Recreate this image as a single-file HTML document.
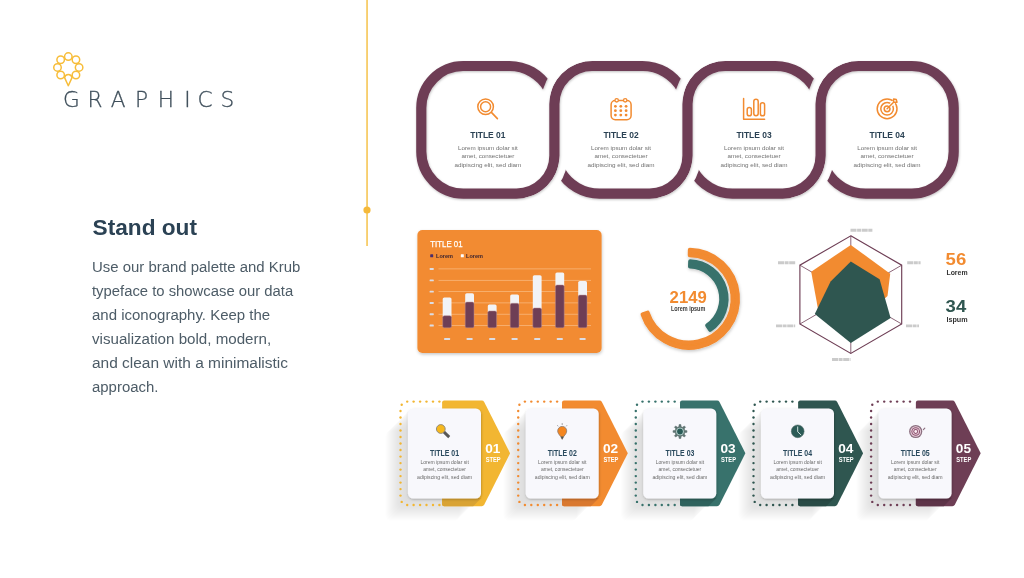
<!DOCTYPE html>
<html lang="en">
<head>
<meta charset="utf-8">
<title>Graphics</title>
<style>
html,body{margin:0;padding:0;background:#fff;}
body{width:1024px;height:578px;overflow:hidden;position:relative;font-family:"Liberation Sans",sans-serif;}
svg{position:absolute;left:0;top:0;}
svg text{font-family:"Liberation Sans",sans-serif;}
</style>
</head>
<body>
<svg width="1024" height="578" viewBox="0 0 1024 578">
<defs>
<filter id="sh" x="-5%" y="-5%" width="110%" height="115%"><feDropShadow dx="0.5" dy="1" stdDeviation="1.2" flood-color="#000" flood-opacity="0.25"/></filter>
<filter id="sh2" x="-10%" y="-10%" width="120%" height="125%"><feDropShadow dx="0.5" dy="1.5" stdDeviation="1.5" flood-color="#000" flood-opacity="0.22"/></filter>
<g id="lsg" fill="#c4c7d1" fill-opacity="0.04"><rect x="406.9" y="409.5" width="73.4" height="89.9" rx="5.2"/><rect x="405.9" y="410.5" width="73.4" height="89.9" rx="5.2"/><rect x="404.9" y="411.5" width="73.4" height="89.9" rx="5.2"/><rect x="403.9" y="412.5" width="73.4" height="89.9" rx="5.2"/><rect x="402.9" y="413.5" width="73.4" height="89.9" rx="5.2"/><rect x="401.9" y="414.5" width="73.4" height="89.9" rx="5.2"/><rect x="400.9" y="415.5" width="73.4" height="89.9" rx="5.2"/><rect x="399.9" y="416.5" width="73.4" height="89.9" rx="5.2"/><rect x="398.9" y="417.5" width="73.4" height="89.9" rx="5.2"/><rect x="397.9" y="418.5" width="73.4" height="89.9" rx="5.2"/><rect x="396.9" y="419.5" width="73.4" height="89.9" rx="5.2"/><rect x="395.9" y="420.5" width="73.4" height="89.9" rx="5.2"/><rect x="394.9" y="421.5" width="73.4" height="89.9" rx="5.2"/><rect x="393.9" y="422.5" width="73.4" height="89.9" rx="5.2"/><rect x="392.9" y="423.5" width="73.4" height="89.9" rx="5.2"/><rect x="391.9" y="424.5" width="73.4" height="89.9" rx="5.2"/><rect x="390.9" y="425.5" width="73.4" height="89.9" rx="5.2"/><rect x="389.9" y="426.5" width="73.4" height="89.9" rx="5.2"/><rect x="388.9" y="427.5" width="73.4" height="89.9" rx="5.2"/><rect x="387.9" y="428.5" width="73.4" height="89.9" rx="5.2"/><rect x="386.9" y="429.5" width="73.4" height="89.9" rx="5.2"/><rect x="385.9" y="430.5" width="73.4" height="89.9" rx="5.2"/></g>
</defs>

<text x="92.6" y="235.3" font-size="21.6" font-weight="bold" fill="#2b4254" textLength="104.4" lengthAdjust="spacingAndGlyphs">Stand out</text>
<g font-size="14.9" fill="#4d5c67">
<text x="92" y="271.5" textLength="208.3" lengthAdjust="spacingAndGlyphs">Use our brand palette and Krub</text>
<text x="92" y="295.5" textLength="201.2" lengthAdjust="spacingAndGlyphs">typeface to showcase our data</text>
<text x="92" y="319.5" textLength="178.2" lengthAdjust="spacingAndGlyphs">and iconography. Keep the</text>
<text x="92" y="343.5" textLength="179.2" lengthAdjust="spacingAndGlyphs">visualization bold, modern,</text>
<text x="92" y="367.5" textLength="196.0" lengthAdjust="spacingAndGlyphs">and clean with a minimalistic</text>
<text x="92" y="391.5" textLength="66.4" lengthAdjust="spacingAndGlyphs">approach.</text>
</g>
<rect x="366.3" y="0" width="1.5" height="246" fill="#f6c24a"/>
<circle cx="367" cy="210" r="3.6" fill="#f5b93a"/>
<g fill="none" stroke="#f7bd3a" stroke-width="1.5">
<circle cx="68.30" cy="56.60" r="3.75"/>
<circle cx="75.94" cy="59.76" r="3.75"/>
<circle cx="79.10" cy="67.40" r="3.75"/>
<circle cx="75.94" cy="75.04" r="3.75"/>
<path d="M64.60 77.60 A3.75 3.75 0 0 1 72.00 77.60 L68.30 85.7 Z" stroke-linejoin="round"/>
<circle cx="60.66" cy="75.04" r="3.75"/>
<circle cx="57.50" cy="67.40" r="3.75"/>
<circle cx="60.66" cy="59.76" r="3.75"/>
</g>
<text x="63.0 87.6 110.8 135.0 157.8 184.2 197.6 220.6" y="107.4" font-size="21.6" fill="#3f4f5b" stroke="#3f4f5b" stroke-width="0.3" style="font-family:'DejaVu Sans Light','DejaVu Sans','Liberation Sans',sans-serif;font-weight:200">GRAPHICS</text>
<mask id="cm" maskUnits="userSpaceOnUse" x="400" y="40" width="580" height="180"><rect x="400" y="40" width="580" height="180" fill="#fff"/><g fill="none" stroke="#000" stroke-width="8.3"><path d="M584.20 57.47 A47.25 47.25 0 0 0 545.61 97.42"/><path d="M524.60 202.13 A47.25 47.25 0 0 0 563.19 162.18"/><path d="M717.30 57.47 A47.25 47.25 0 0 0 678.71 97.42"/><path d="M657.70 202.13 A47.25 47.25 0 0 0 696.29 162.18"/><path d="M850.40 57.47 A47.25 47.25 0 0 0 811.81 97.42"/><path d="M790.80 202.13 A47.25 47.25 0 0 0 829.39 162.18"/></g></mask>
<g filter="url(#sh)"><path d="M548.37 88.50 A45.0 45.0 0 0 0 509.40 66.00 L463.30 66.00 A42.0 42.0 0 0 0 421.30 108.00 L421.30 151.60 A42.0 42.0 0 0 0 463.30 193.60 L516.40 193.60 A38.0 38.0 0 0 0 554.40 155.60 L554.40 104.00 A38.0 38.0 0 0 1 592.40 66.00 L642.50 66.00 A45.0 45.0 0 0 1 681.47 88.50 M560.43 171.10 A45.0 45.0 0 0 0 599.40 193.60 L649.50 193.60 A38.0 38.0 0 0 0 687.50 155.60 L687.50 104.00 A38.0 38.0 0 0 1 725.50 66.00 L775.60 66.00 A45.0 45.0 0 0 1 814.57 88.50 M693.53 171.10 A45.0 45.0 0 0 0 732.50 193.60 L782.60 193.60 A38.0 38.0 0 0 0 820.60 155.60 L820.60 104.00 A38.0 38.0 0 0 1 858.60 66.00 L911.70 66.00 A42.0 42.0 0 0 1 953.70 108.00 L953.70 151.60 A42.0 42.0 0 0 1 911.70 193.60 L865.60 193.60 A45.0 45.0 0 0 1 826.63 171.10 " fill="none" stroke="#6e3e55" stroke-width="10.2" mask="url(#cm)"/></g>
<text x="487.9" y="138.3" text-anchor="middle" font-size="9.3" font-weight="bold" fill="#2b4254" textLength="35.2" lengthAdjust="spacingAndGlyphs">TITLE 01</text>
<text x="487.9" y="149.7" text-anchor="middle" font-size="6.2" fill="#707070" textLength="59.8" lengthAdjust="spacingAndGlyphs">Lorem ipsum dolar sit</text>
<text x="487.9" y="158.3" text-anchor="middle" font-size="6.2" fill="#707070" textLength="53.0" lengthAdjust="spacingAndGlyphs">amet, consectetuer</text>
<text x="487.9" y="166.9" text-anchor="middle" font-size="6.2" fill="#707070" textLength="67.0" lengthAdjust="spacingAndGlyphs">adipiscing elit, sed diam</text>
<text x="621.0" y="138.3" text-anchor="middle" font-size="9.3" font-weight="bold" fill="#2b4254" textLength="35.2" lengthAdjust="spacingAndGlyphs">TITLE 02</text>
<text x="621.0" y="149.7" text-anchor="middle" font-size="6.2" fill="#707070" textLength="59.8" lengthAdjust="spacingAndGlyphs">Lorem ipsum dolar sit</text>
<text x="621.0" y="158.3" text-anchor="middle" font-size="6.2" fill="#707070" textLength="53.0" lengthAdjust="spacingAndGlyphs">amet, consectetuer</text>
<text x="621.0" y="166.9" text-anchor="middle" font-size="6.2" fill="#707070" textLength="67.0" lengthAdjust="spacingAndGlyphs">adipiscing elit, sed diam</text>
<text x="754.0" y="138.3" text-anchor="middle" font-size="9.3" font-weight="bold" fill="#2b4254" textLength="35.2" lengthAdjust="spacingAndGlyphs">TITLE 03</text>
<text x="754.0" y="149.7" text-anchor="middle" font-size="6.2" fill="#707070" textLength="59.8" lengthAdjust="spacingAndGlyphs">Lorem ipsum dolar sit</text>
<text x="754.0" y="158.3" text-anchor="middle" font-size="6.2" fill="#707070" textLength="53.0" lengthAdjust="spacingAndGlyphs">amet, consectetuer</text>
<text x="754.0" y="166.9" text-anchor="middle" font-size="6.2" fill="#707070" textLength="67.0" lengthAdjust="spacingAndGlyphs">adipiscing elit, sed diam</text>
<text x="887.1" y="138.3" text-anchor="middle" font-size="9.3" font-weight="bold" fill="#2b4254" textLength="35.2" lengthAdjust="spacingAndGlyphs">TITLE 04</text>
<text x="887.1" y="149.7" text-anchor="middle" font-size="6.2" fill="#707070" textLength="59.8" lengthAdjust="spacingAndGlyphs">Lorem ipsum dolar sit</text>
<text x="887.1" y="158.3" text-anchor="middle" font-size="6.2" fill="#707070" textLength="53.0" lengthAdjust="spacingAndGlyphs">amet, consectetuer</text>
<text x="887.1" y="166.9" text-anchor="middle" font-size="6.2" fill="#707070" textLength="67.0" lengthAdjust="spacingAndGlyphs">adipiscing elit, sed diam</text>
<g fill="none" stroke="#f28b30" stroke-width="1.5" stroke-linecap="round" stroke-linejoin="round">
<circle cx="485.6" cy="106.8" r="7.8"/><circle cx="485.6" cy="106.8" r="5"/><path d="M491.4 112.4 L497.4 118.6" stroke-width="1.6"/>
<rect x="611.1" y="100.5" width="20" height="19.3" rx="4.2"/>
<circle cx="616.7" cy="100.3" r="1.7" fill="#fff" stroke-width="1.3"/><circle cx="625.2" cy="100.3" r="1.7" fill="#fff" stroke-width="1.3"/>
<circle cx="615.4" cy="106.3" r="1.4" fill="#f28b30" stroke="none"/>
<circle cx="615.4" cy="110.7" r="1.4" fill="#f28b30" stroke="none"/>
<circle cx="615.4" cy="115.1" r="1.4" fill="#f28b30" stroke="none"/>
<circle cx="620.8" cy="106.3" r="1.4" fill="#f28b30" stroke="none"/>
<circle cx="620.8" cy="110.7" r="1.4" fill="#f28b30" stroke="none"/>
<circle cx="620.8" cy="115.1" r="1.4" fill="#f28b30" stroke="none"/>
<circle cx="626.1" cy="106.3" r="1.4" fill="#f28b30" stroke="none"/>
<circle cx="626.1" cy="110.7" r="1.4" fill="#f28b30" stroke="none"/>
<circle cx="626.1" cy="115.1" r="1.4" fill="#f28b30" stroke="none"/>
<path d="M743.6 98.6 V119.2 H764.6"/>
<rect x="747.2" y="107.6" width="4.2" height="8.2" rx="2.1"/><rect x="753.8" y="99.2" width="4.4" height="16.6" rx="2.2"/><rect x="760.4" y="102.8" width="4.2" height="13" rx="2.1"/>
<circle cx="887.1" cy="108.8" r="9.9"/><circle cx="887.1" cy="108.8" r="6.3"/><circle cx="887.1" cy="108.8" r="2.9"/>
<path d="M889.5 106.4 L895.6 100.3" stroke="#fff" stroke-width="3.6" stroke-linecap="butt"/>
<path d="M887.1 108.8 L893.6 102.3 M893.6 102.3 V98.9 L896.3 99.6 L897 102.3 Z" />
</g>
<rect x="417.4" y="230" width="184.2" height="123" rx="5" fill="#f28b30" filter="url(#sh2)"/>
<text x="430.2" y="247.3" font-size="8.6" fill="#fff" stroke="#fff" stroke-width="0.25" textLength="32.4" lengthAdjust="spacingAndGlyphs">TITLE 01</text>
<rect x="430.2" y="254.3" width="3" height="3" rx="0.6" fill="#4a2d6b"/><rect x="460.8" y="254.3" width="3" height="3" rx="0.5" fill="#fff"/>
<text x="436" y="257.8" font-size="5.6" font-weight="bold" fill="#3c2430" textLength="17" lengthAdjust="spacingAndGlyphs">Lorem</text>
<text x="466" y="257.8" font-size="5.6" font-weight="bold" fill="#3c2430" textLength="17" lengthAdjust="spacingAndGlyphs">Lorem</text>
<rect x="438.5" y="268.55" width="152.5" height="0.7" fill="#f9bd85"/>
<rect x="429.6" y="268.00" width="4.2" height="1.9" rx="0.6" fill="#dcdde4"/>
<rect x="438.5" y="279.95" width="152.5" height="0.7" fill="#f9bd85"/>
<rect x="429.6" y="279.40" width="4.2" height="1.9" rx="0.6" fill="#dcdde4"/>
<rect x="438.5" y="291.25" width="152.5" height="0.7" fill="#f9bd85"/>
<rect x="429.6" y="290.70" width="4.2" height="1.9" rx="0.6" fill="#dcdde4"/>
<rect x="438.5" y="302.55" width="152.5" height="0.7" fill="#f9bd85"/>
<rect x="429.6" y="302.00" width="4.2" height="1.9" rx="0.6" fill="#dcdde4"/>
<rect x="438.5" y="313.85" width="152.5" height="0.7" fill="#f9bd85"/>
<rect x="429.6" y="313.30" width="4.2" height="1.9" rx="0.6" fill="#dcdde4"/>
<rect x="438.5" y="325.15" width="152.5" height="0.7" fill="#f9bd85"/>
<rect x="429.6" y="324.60" width="4.2" height="1.9" rx="0.6" fill="#dcdde4"/>
<rect x="442.7" y="297.4" width="8.8" height="20.3" rx="1.6" fill="#f2f3f6"/>
<rect x="442.7" y="315.7" width="8.8" height="12.1" rx="1.6" fill="#6e3e55" stroke="#b98a8f" stroke-width="0.5"/>
<rect x="444.1" y="338" width="6" height="2" rx="0.6" fill="#dcdde4"/>
<rect x="465.2" y="293.2" width="8.8" height="10.9" rx="1.6" fill="#f2f3f6"/>
<rect x="465.2" y="302.1" width="8.8" height="25.7" rx="1.6" fill="#6e3e55" stroke="#b98a8f" stroke-width="0.5"/>
<rect x="466.6" y="338" width="6" height="2" rx="0.6" fill="#dcdde4"/>
<rect x="487.8" y="304.4" width="8.8" height="8.6" rx="1.6" fill="#f2f3f6"/>
<rect x="487.8" y="311.0" width="8.8" height="16.8" rx="1.6" fill="#6e3e55" stroke="#b98a8f" stroke-width="0.5"/>
<rect x="489.2" y="338" width="6" height="2" rx="0.6" fill="#dcdde4"/>
<rect x="510.2" y="294.4" width="8.8" height="10.9" rx="1.6" fill="#f2f3f6"/>
<rect x="510.2" y="303.3" width="8.8" height="24.5" rx="1.6" fill="#6e3e55" stroke="#b98a8f" stroke-width="0.5"/>
<rect x="511.6" y="338" width="6" height="2" rx="0.6" fill="#dcdde4"/>
<rect x="532.8" y="275.2" width="8.8" height="34.8" rx="1.6" fill="#f2f3f6"/>
<rect x="532.8" y="308.0" width="8.8" height="19.8" rx="1.6" fill="#6e3e55" stroke="#b98a8f" stroke-width="0.5"/>
<rect x="534.2" y="338" width="6" height="2" rx="0.6" fill="#dcdde4"/>
<rect x="555.4" y="272.4" width="8.8" height="14.6" rx="1.6" fill="#f2f3f6"/>
<rect x="555.4" y="285.0" width="8.8" height="42.8" rx="1.6" fill="#6e3e55" stroke="#b98a8f" stroke-width="0.5"/>
<rect x="556.8" y="338" width="6" height="2" rx="0.6" fill="#dcdde4"/>
<rect x="578.2" y="281.0" width="8.8" height="16.1" rx="1.6" fill="#f2f3f6"/>
<rect x="578.2" y="295.1" width="8.8" height="32.7" rx="1.6" fill="#6e3e55" stroke="#b98a8f" stroke-width="0.5"/>
<rect x="579.6" y="338" width="6" height="2" rx="0.6" fill="#dcdde4"/>
<g filter="url(#sh2)" stroke-linejoin="round" stroke-width="4">
<path d="M689.83 249.81 A49.00 49.00 0 1 1 642.53 314.33 L647.65 312.62 A43.60 43.60 0 1 0 689.74 255.21 Z" fill="#f28b30" stroke="#f28b30"/>
<path d="M690.17 261.22 A37.60 37.60 0 0 1 710.18 329.87 L707.14 325.41 A32.20 32.20 0 0 0 690.00 266.62 Z" fill="#38726c" stroke="#38726c"/>
</g>
<text x="688.2" y="303.4" text-anchor="middle" font-size="16.6" font-weight="bold" fill="#f28b30" textLength="37.2" lengthAdjust="spacingAndGlyphs">2149</text>
<text x="688.1" y="311.2" text-anchor="middle" font-size="6.6" font-weight="bold" fill="#3a3a3a" textLength="34.4" lengthAdjust="spacingAndGlyphs">Lorem ipsum</text>
<g fill="none" stroke="#6e3e55" stroke-width="0.8">
<path d="M850.8 294.6 L850.8 235.8"/>
<path d="M850.8 294.6 L901.7 265.2"/>
<path d="M850.8 294.6 L901.7 324.0"/>
<path d="M850.8 294.6 L850.8 353.4"/>
<path d="M850.8 294.6 L799.9 324.0"/>
<path d="M850.8 294.6 L799.9 265.2"/>
</g>
<polygon points="850.8,244.9 890.2,273.7 887.5,296.0 850.8,330.0 818.0,309.0 811.2,271.7" fill="#f28b30"/>
<polygon points="850.8,261.5 879.6,279.2 890.6,318.0 850.8,342.9 814.8,314.0 830.6,281.4" fill="#2f5650"/>
<polygon points="850.8,235.8 901.7,265.2 901.7,324.0 850.8,353.4 799.9,324.0 799.9,265.2" fill="none" stroke="#6e3e55" stroke-width="1.15"/>
<path d="M850.5 230.2 H873" stroke="#cbcbcb" stroke-width="2.9" stroke-dasharray="6 0.6 4 0.6" fill="none"/>
<path d="M778 262.7 H795.2" stroke="#cbcbcb" stroke-width="2.9" stroke-dasharray="6 0.6 4 0.6" fill="none"/>
<path d="M907.2 262.7 H920.6" stroke="#cbcbcb" stroke-width="2.9" stroke-dasharray="6 0.6 4 0.6" fill="none"/>
<path d="M776 325.9 H795.2" stroke="#cbcbcb" stroke-width="2.9" stroke-dasharray="6 0.6 4 0.6" fill="none"/>
<path d="M906 325.9 H919" stroke="#cbcbcb" stroke-width="2.9" stroke-dasharray="6 0.6 4 0.6" fill="none"/>
<path d="M832 359.5 H850.5" stroke="#cbcbcb" stroke-width="2.9" stroke-dasharray="6 0.6 4 0.6" fill="none"/>
<text x="945.6" y="264.8" font-size="15.6" font-weight="bold" fill="#f28b30" textLength="20.6" lengthAdjust="spacingAndGlyphs">56</text>
<text x="946.4" y="274.5" font-size="7.4" font-weight="bold" fill="#333" textLength="21.2" lengthAdjust="spacingAndGlyphs">Lorem</text>
<text x="945.6" y="312.4" font-size="15.6" font-weight="bold" fill="#2f5650" textLength="20.6" lengthAdjust="spacingAndGlyphs">34</text>
<text x="946.4" y="322.1" font-size="7.4" font-weight="bold" fill="#333" textLength="21.2" lengthAdjust="spacingAndGlyphs">Ispum</text>
<g transform="translate(0.0 0)">
<use href="#lsg"/>
</g>
<g transform="translate(117.7 0)">
<use href="#lsg"/>
</g>
<g transform="translate(235.3 0)">
<use href="#lsg"/>
</g>
<g transform="translate(353.0 0)">
<use href="#lsg"/>
</g>
<g transform="translate(470.6 0)">
<use href="#lsg"/>
</g>
<g transform="translate(0.0 0)">
<path d="M444.1 400.6 H481.8 Q483.4 400.6 484.2 402 L510.1 453.3 L484.2 504.8 Q483.4 506.2 481.8 506.2 H444.1 Q442.1 506.2 442.1 504.2 V402.6 Q442.1 400.6 444.1 400.6 Z" fill="#f2b632"/>
<path d="M442.1 498 H481.2 L473.2 506.2 H444.1 Q442.1 506.2 442.1 504.2 Z" fill="#d9a334"/>
<g fill="#f2b632"><circle cx="407.2" cy="401.6" r="1.2"/><circle cx="413.6" cy="401.6" r="1.2"/><circle cx="420.1" cy="401.6" r="1.2"/><circle cx="426.5" cy="401.6" r="1.2"/><circle cx="433.0" cy="401.6" r="1.2"/><circle cx="439.4" cy="401.6" r="1.2"/><circle cx="407.2" cy="505.0" r="1.2"/><circle cx="413.6" cy="505.0" r="1.2"/><circle cx="420.1" cy="505.0" r="1.2"/><circle cx="426.5" cy="505.0" r="1.2"/><circle cx="433.0" cy="505.0" r="1.2"/><circle cx="439.4" cy="505.0" r="1.2"/><circle cx="401.7" cy="404.7" r="1.2"/><circle cx="401.7" cy="501.9" r="1.2"/><circle cx="400.5" cy="411.0" r="1.2"/><circle cx="400.5" cy="417.5" r="1.2"/><circle cx="400.5" cy="424.0" r="1.2"/><circle cx="400.5" cy="430.5" r="1.2"/><circle cx="400.5" cy="437.0" r="1.2"/><circle cx="400.5" cy="443.5" r="1.2"/><circle cx="400.5" cy="450.0" r="1.2"/><circle cx="400.5" cy="456.6" r="1.2"/><circle cx="400.5" cy="463.1" r="1.2"/><circle cx="400.5" cy="469.6" r="1.2"/><circle cx="400.5" cy="476.1" r="1.2"/><circle cx="400.5" cy="482.6" r="1.2"/><circle cx="400.5" cy="489.1" r="1.2"/><circle cx="400.5" cy="495.6" r="1.2"/></g>
<rect x="407.9" y="408.5" width="73.1" height="89.9" rx="5.2" fill="#f8f8fc" filter="url(#sh)"/>
<text x="444.6" y="455.6" text-anchor="middle" font-size="8.3" font-weight="bold" fill="#2a4a5e" textLength="29" lengthAdjust="spacingAndGlyphs">TITLE 01</text>
<text x="444.6" y="464.1" text-anchor="middle" font-size="5.3" fill="#6a6a6a" textLength="48.4" lengthAdjust="spacingAndGlyphs">Lorem ipsum dolar sit</text>
<text x="444.6" y="471.3" text-anchor="middle" font-size="5.3" fill="#6a6a6a" textLength="42.8" lengthAdjust="spacingAndGlyphs">amet, consectetuer</text>
<text x="444.6" y="478.5" text-anchor="middle" font-size="5.3" fill="#6a6a6a" textLength="55.0" lengthAdjust="spacingAndGlyphs">adipiscing elit, sed diam</text>
<text x="492.8" y="453.1" text-anchor="middle" font-size="13.2" font-weight="bold" fill="#fff" textLength="15.2" lengthAdjust="spacingAndGlyphs">01</text>
<text x="493.2" y="461.8" text-anchor="middle" font-size="6.4" font-weight="bold" fill="#fff" textLength="15" lengthAdjust="spacingAndGlyphs">STEP</text>
</g>
<g transform="translate(117.7 0)">
<path d="M446.3 400.6 H481.8 Q483.4 400.6 484.2 402 L510.1 453.3 L484.2 504.8 Q483.4 506.2 481.8 506.2 H446.3 Q444.3 506.2 444.3 504.2 V402.6 Q444.3 400.6 446.3 400.6 Z" fill="#f28b30"/>
<path d="M444.3 498 H481.2 L473.2 506.2 H446.3 Q444.3 506.2 444.3 504.2 Z" fill="#d9782f"/>
<g fill="#f28b30"><circle cx="407.2" cy="401.6" r="1.2"/><circle cx="413.6" cy="401.6" r="1.2"/><circle cx="420.1" cy="401.6" r="1.2"/><circle cx="426.5" cy="401.6" r="1.2"/><circle cx="433.0" cy="401.6" r="1.2"/><circle cx="439.4" cy="401.6" r="1.2"/><circle cx="407.2" cy="505.0" r="1.2"/><circle cx="413.6" cy="505.0" r="1.2"/><circle cx="420.1" cy="505.0" r="1.2"/><circle cx="426.5" cy="505.0" r="1.2"/><circle cx="433.0" cy="505.0" r="1.2"/><circle cx="439.4" cy="505.0" r="1.2"/><circle cx="401.7" cy="404.7" r="1.2"/><circle cx="401.7" cy="501.9" r="1.2"/><circle cx="400.5" cy="411.0" r="1.2"/><circle cx="400.5" cy="417.5" r="1.2"/><circle cx="400.5" cy="424.0" r="1.2"/><circle cx="400.5" cy="430.5" r="1.2"/><circle cx="400.5" cy="437.0" r="1.2"/><circle cx="400.5" cy="443.5" r="1.2"/><circle cx="400.5" cy="450.0" r="1.2"/><circle cx="400.5" cy="456.6" r="1.2"/><circle cx="400.5" cy="463.1" r="1.2"/><circle cx="400.5" cy="469.6" r="1.2"/><circle cx="400.5" cy="476.1" r="1.2"/><circle cx="400.5" cy="482.6" r="1.2"/><circle cx="400.5" cy="489.1" r="1.2"/><circle cx="400.5" cy="495.6" r="1.2"/></g>
<rect x="407.9" y="408.5" width="73.1" height="89.9" rx="5.2" fill="#f8f8fc" filter="url(#sh)"/>
<text x="444.6" y="455.6" text-anchor="middle" font-size="8.3" font-weight="bold" fill="#2a4a5e" textLength="29" lengthAdjust="spacingAndGlyphs">TITLE 02</text>
<text x="444.6" y="464.1" text-anchor="middle" font-size="5.3" fill="#6a6a6a" textLength="48.4" lengthAdjust="spacingAndGlyphs">Lorem ipsum dolar sit</text>
<text x="444.6" y="471.3" text-anchor="middle" font-size="5.3" fill="#6a6a6a" textLength="42.8" lengthAdjust="spacingAndGlyphs">amet, consectetuer</text>
<text x="444.6" y="478.5" text-anchor="middle" font-size="5.3" fill="#6a6a6a" textLength="55.0" lengthAdjust="spacingAndGlyphs">adipiscing elit, sed diam</text>
<text x="492.8" y="453.1" text-anchor="middle" font-size="13.2" font-weight="bold" fill="#fff" textLength="15.2" lengthAdjust="spacingAndGlyphs">02</text>
<text x="493.2" y="461.8" text-anchor="middle" font-size="6.4" font-weight="bold" fill="#fff" textLength="15" lengthAdjust="spacingAndGlyphs">STEP</text>
</g>
<g transform="translate(235.3 0)">
<path d="M446.7 400.6 H481.8 Q483.4 400.6 484.2 402 L510.1 453.3 L484.2 504.8 Q483.4 506.2 481.8 506.2 H446.7 Q444.7 506.2 444.7 504.2 V402.6 Q444.7 400.6 446.7 400.6 Z" fill="#38726c"/>
<path d="M444.7 498 H481.2 L473.2 506.2 H446.7 Q444.7 506.2 444.7 504.2 Z" fill="#2f625d"/>
<g fill="#38726c"><circle cx="407.2" cy="401.6" r="1.2"/><circle cx="413.6" cy="401.6" r="1.2"/><circle cx="420.1" cy="401.6" r="1.2"/><circle cx="426.5" cy="401.6" r="1.2"/><circle cx="433.0" cy="401.6" r="1.2"/><circle cx="439.4" cy="401.6" r="1.2"/><circle cx="407.2" cy="505.0" r="1.2"/><circle cx="413.6" cy="505.0" r="1.2"/><circle cx="420.1" cy="505.0" r="1.2"/><circle cx="426.5" cy="505.0" r="1.2"/><circle cx="433.0" cy="505.0" r="1.2"/><circle cx="439.4" cy="505.0" r="1.2"/><circle cx="401.7" cy="404.7" r="1.2"/><circle cx="401.7" cy="501.9" r="1.2"/><circle cx="400.5" cy="411.0" r="1.2"/><circle cx="400.5" cy="417.5" r="1.2"/><circle cx="400.5" cy="424.0" r="1.2"/><circle cx="400.5" cy="430.5" r="1.2"/><circle cx="400.5" cy="437.0" r="1.2"/><circle cx="400.5" cy="443.5" r="1.2"/><circle cx="400.5" cy="450.0" r="1.2"/><circle cx="400.5" cy="456.6" r="1.2"/><circle cx="400.5" cy="463.1" r="1.2"/><circle cx="400.5" cy="469.6" r="1.2"/><circle cx="400.5" cy="476.1" r="1.2"/><circle cx="400.5" cy="482.6" r="1.2"/><circle cx="400.5" cy="489.1" r="1.2"/><circle cx="400.5" cy="495.6" r="1.2"/></g>
<rect x="407.9" y="408.5" width="73.1" height="89.9" rx="5.2" fill="#f8f8fc" filter="url(#sh)"/>
<text x="444.6" y="455.6" text-anchor="middle" font-size="8.3" font-weight="bold" fill="#2a4a5e" textLength="29" lengthAdjust="spacingAndGlyphs">TITLE 03</text>
<text x="444.6" y="464.1" text-anchor="middle" font-size="5.3" fill="#6a6a6a" textLength="48.4" lengthAdjust="spacingAndGlyphs">Lorem ipsum dolar sit</text>
<text x="444.6" y="471.3" text-anchor="middle" font-size="5.3" fill="#6a6a6a" textLength="42.8" lengthAdjust="spacingAndGlyphs">amet, consectetuer</text>
<text x="444.6" y="478.5" text-anchor="middle" font-size="5.3" fill="#6a6a6a" textLength="55.0" lengthAdjust="spacingAndGlyphs">adipiscing elit, sed diam</text>
<text x="492.8" y="453.1" text-anchor="middle" font-size="13.2" font-weight="bold" fill="#fff" textLength="15.2" lengthAdjust="spacingAndGlyphs">03</text>
<text x="493.2" y="461.8" text-anchor="middle" font-size="6.4" font-weight="bold" fill="#fff" textLength="15" lengthAdjust="spacingAndGlyphs">STEP</text>
</g>
<g transform="translate(353.0 0)">
<path d="M447.1 400.6 H481.8 Q483.4 400.6 484.2 402 L510.1 453.3 L484.2 504.8 Q483.4 506.2 481.8 506.2 H447.1 Q445.1 506.2 445.1 504.2 V402.6 Q445.1 400.6 447.1 400.6 Z" fill="#2f5650"/>
<path d="M445.1 498 H481.2 L473.2 506.2 H447.1 Q445.1 506.2 445.1 504.2 Z" fill="#284a45"/>
<g fill="#2f5650"><circle cx="407.2" cy="401.6" r="1.2"/><circle cx="413.6" cy="401.6" r="1.2"/><circle cx="420.1" cy="401.6" r="1.2"/><circle cx="426.5" cy="401.6" r="1.2"/><circle cx="433.0" cy="401.6" r="1.2"/><circle cx="439.4" cy="401.6" r="1.2"/><circle cx="407.2" cy="505.0" r="1.2"/><circle cx="413.6" cy="505.0" r="1.2"/><circle cx="420.1" cy="505.0" r="1.2"/><circle cx="426.5" cy="505.0" r="1.2"/><circle cx="433.0" cy="505.0" r="1.2"/><circle cx="439.4" cy="505.0" r="1.2"/><circle cx="401.7" cy="404.7" r="1.2"/><circle cx="401.7" cy="501.9" r="1.2"/><circle cx="400.5" cy="411.0" r="1.2"/><circle cx="400.5" cy="417.5" r="1.2"/><circle cx="400.5" cy="424.0" r="1.2"/><circle cx="400.5" cy="430.5" r="1.2"/><circle cx="400.5" cy="437.0" r="1.2"/><circle cx="400.5" cy="443.5" r="1.2"/><circle cx="400.5" cy="450.0" r="1.2"/><circle cx="400.5" cy="456.6" r="1.2"/><circle cx="400.5" cy="463.1" r="1.2"/><circle cx="400.5" cy="469.6" r="1.2"/><circle cx="400.5" cy="476.1" r="1.2"/><circle cx="400.5" cy="482.6" r="1.2"/><circle cx="400.5" cy="489.1" r="1.2"/><circle cx="400.5" cy="495.6" r="1.2"/></g>
<rect x="407.9" y="408.5" width="73.1" height="89.9" rx="5.2" fill="#f8f8fc" filter="url(#sh)"/>
<text x="444.6" y="455.6" text-anchor="middle" font-size="8.3" font-weight="bold" fill="#2a4a5e" textLength="29" lengthAdjust="spacingAndGlyphs">TITLE 04</text>
<text x="444.6" y="464.1" text-anchor="middle" font-size="5.3" fill="#6a6a6a" textLength="48.4" lengthAdjust="spacingAndGlyphs">Lorem ipsum dolar sit</text>
<text x="444.6" y="471.3" text-anchor="middle" font-size="5.3" fill="#6a6a6a" textLength="42.8" lengthAdjust="spacingAndGlyphs">amet, consectetuer</text>
<text x="444.6" y="478.5" text-anchor="middle" font-size="5.3" fill="#6a6a6a" textLength="55.0" lengthAdjust="spacingAndGlyphs">adipiscing elit, sed diam</text>
<text x="492.8" y="453.1" text-anchor="middle" font-size="13.2" font-weight="bold" fill="#fff" textLength="15.2" lengthAdjust="spacingAndGlyphs">04</text>
<text x="493.2" y="461.8" text-anchor="middle" font-size="6.4" font-weight="bold" fill="#fff" textLength="15" lengthAdjust="spacingAndGlyphs">STEP</text>
</g>
<g transform="translate(470.6 0)">
<path d="M447.3 400.6 H481.8 Q483.4 400.6 484.2 402 L510.1 453.3 L484.2 504.8 Q483.4 506.2 481.8 506.2 H447.3 Q445.3 506.2 445.3 504.2 V402.6 Q445.3 400.6 447.3 400.6 Z" fill="#6e3e55"/>
<path d="M445.3 498 H481.2 L473.2 506.2 H447.3 Q445.3 506.2 445.3 504.2 Z" fill="#5d3448"/>
<g fill="#6e3e55"><circle cx="407.2" cy="401.6" r="1.2"/><circle cx="413.6" cy="401.6" r="1.2"/><circle cx="420.1" cy="401.6" r="1.2"/><circle cx="426.5" cy="401.6" r="1.2"/><circle cx="433.0" cy="401.6" r="1.2"/><circle cx="439.4" cy="401.6" r="1.2"/><circle cx="407.2" cy="505.0" r="1.2"/><circle cx="413.6" cy="505.0" r="1.2"/><circle cx="420.1" cy="505.0" r="1.2"/><circle cx="426.5" cy="505.0" r="1.2"/><circle cx="433.0" cy="505.0" r="1.2"/><circle cx="439.4" cy="505.0" r="1.2"/><circle cx="401.7" cy="404.7" r="1.2"/><circle cx="401.7" cy="501.9" r="1.2"/><circle cx="400.5" cy="411.0" r="1.2"/><circle cx="400.5" cy="417.5" r="1.2"/><circle cx="400.5" cy="424.0" r="1.2"/><circle cx="400.5" cy="430.5" r="1.2"/><circle cx="400.5" cy="437.0" r="1.2"/><circle cx="400.5" cy="443.5" r="1.2"/><circle cx="400.5" cy="450.0" r="1.2"/><circle cx="400.5" cy="456.6" r="1.2"/><circle cx="400.5" cy="463.1" r="1.2"/><circle cx="400.5" cy="469.6" r="1.2"/><circle cx="400.5" cy="476.1" r="1.2"/><circle cx="400.5" cy="482.6" r="1.2"/><circle cx="400.5" cy="489.1" r="1.2"/><circle cx="400.5" cy="495.6" r="1.2"/></g>
<rect x="407.9" y="408.5" width="73.1" height="89.9" rx="5.2" fill="#f8f8fc" filter="url(#sh)"/>
<text x="444.6" y="455.6" text-anchor="middle" font-size="8.3" font-weight="bold" fill="#2a4a5e" textLength="29" lengthAdjust="spacingAndGlyphs">TITLE 05</text>
<text x="444.6" y="464.1" text-anchor="middle" font-size="5.3" fill="#6a6a6a" textLength="48.4" lengthAdjust="spacingAndGlyphs">Lorem ipsum dolar sit</text>
<text x="444.6" y="471.3" text-anchor="middle" font-size="5.3" fill="#6a6a6a" textLength="42.8" lengthAdjust="spacingAndGlyphs">amet, consectetuer</text>
<text x="444.6" y="478.5" text-anchor="middle" font-size="5.3" fill="#6a6a6a" textLength="55.0" lengthAdjust="spacingAndGlyphs">adipiscing elit, sed diam</text>
<text x="492.8" y="453.1" text-anchor="middle" font-size="13.2" font-weight="bold" fill="#fff" textLength="15.2" lengthAdjust="spacingAndGlyphs">05</text>
<text x="493.2" y="461.8" text-anchor="middle" font-size="6.4" font-weight="bold" fill="#fff" textLength="15" lengthAdjust="spacingAndGlyphs">STEP</text>
</g>
<g><path d="M443.6 431.6 L449.2 437.1" stroke="#585858" stroke-width="2.9"/><circle cx="440.8" cy="429" r="4.4" fill="#f6b81e" stroke="#8b8577" stroke-width="0.9"/></g>
<g>
<path d="M562.2 439.3 L560.6 436.4 C559 434.4 557.7 433 557.7 430.9 A4.5 4.5 0 0 1 566.7 430.9 C566.7 433 565.4 434.4 563.8 436.4 Z" fill="#f4861f" stroke="#8a7a70" stroke-width="0.8" stroke-linejoin="round"/>
<path d="M560.8 436.6 H563.6 L562.2 439.6 Z" fill="#45555a"/>
<path d="M562.2 423.2 V424.9 M557.4 425.3 L558.2 426.3 M567 425.3 L566.2 426.3" stroke="#6d6d6d" stroke-width="0.7" fill="none"/>
</g>
<polygon points="678.88,426.63 679.15,424.55 680.85,424.55 681.12,426.63 682.65,427.26 684.31,425.98 685.52,427.19 684.24,428.85 684.87,430.38 686.95,430.65 686.95,432.35 684.87,432.62 684.24,434.15 685.52,435.81 684.31,437.02 682.65,435.74 681.12,436.37 680.85,438.45 679.15,438.45 678.88,436.37 677.35,435.74 675.69,437.02 674.48,435.81 675.76,434.15 675.13,432.62 673.05,432.35 673.05,430.65 675.13,430.38 675.76,428.85 674.48,427.19 675.69,425.98 677.35,427.26" fill="#5f7472" stroke="#5f7472" stroke-width="0.6" stroke-linejoin="round"/>
<circle cx="680.0" cy="431.5" r="3.8" fill="#b9d6d1"/><circle cx="680.0" cy="431.5" r="2.9" fill="#2a5b56"/>
<circle cx="797.7" cy="431.3" r="6.4" fill="#2c5b56" stroke="#4f6663" stroke-width="0.5"/>
<path d="M797.7 426.9 V431.8 L800.9 434.8" fill="none" stroke="#cfe3df" stroke-width="1" stroke-linecap="round" stroke-linejoin="round"/>
<circle cx="915.7" cy="431.5" r="6.6" fill="#8c7080"/>
<circle cx="915.7" cy="431.5" r="5.3" fill="#ecd3df"/>
<circle cx="915.7" cy="431.5" r="4.3" fill="#8a4f6b"/>
<circle cx="915.7" cy="431.5" r="3.3" fill="#ecd3df"/>
<circle cx="915.7" cy="431.5" r="2.4" fill="#8a4f6b"/>
<circle cx="915.7" cy="431.5" r="1.4" fill="#fbeef4"/>
<path d="M923.4 429.6 L924.8 428.2" stroke="#8c7080" stroke-width="1.2" stroke-linecap="round"/>
</svg>
</body>
</html>
